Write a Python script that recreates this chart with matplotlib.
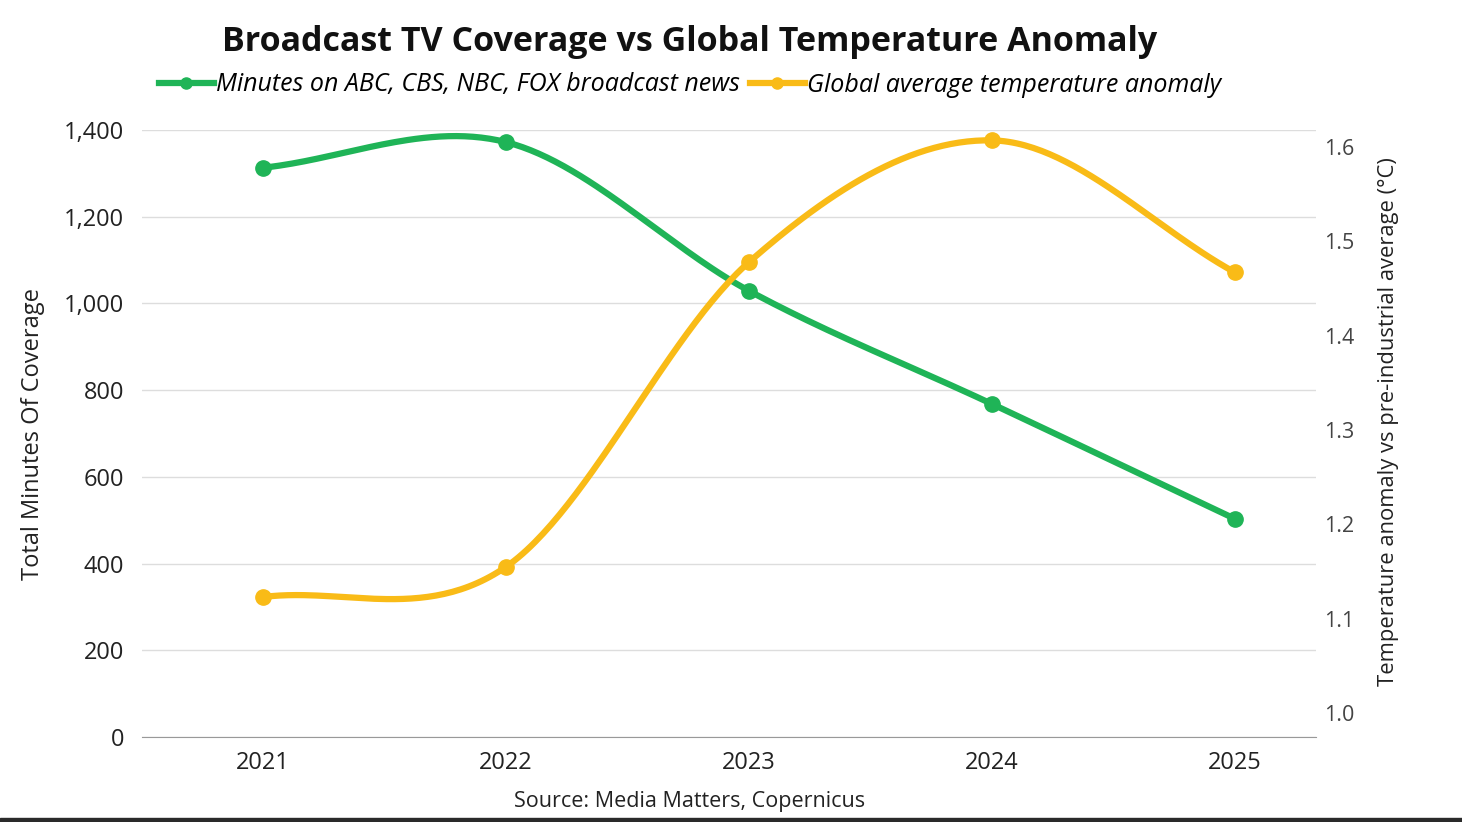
import numpy as np
import matplotlib
matplotlib.use("Agg")
import matplotlib.pyplot as plt
from matplotlib.lines import Line2D
from matplotlib.patches import Rectangle

plt.rcParams['font.family'] = ['Open Sans', 'DejaVu Sans']

# data
years = [2021, 2022, 2023, 2024, 2025]
minutes = [1313, 1372, 1029, 768, 503]
temp_anomaly = [1.123, 1.155, 1.478, 1.607, 1.467]

green = '#1fb457'
yellow = '#f9bb17'


def smooth(x, y, n=60):
    # catmull-rom curve through the points (like the rounded lines in the source)
    x = np.asarray(x, float)
    y = np.asarray(y, float)
    # extrapolated phantom points at both ends
    px = np.concatenate([[2 * x[0] - x[1]], x, [2 * x[-1] - x[-2]]])
    py = np.concatenate([[2 * y[0] - y[1]], y, [2 * y[-1] - y[-2]]])
    xs, ys = [], []
    for i in range(1, len(px) - 2):
        t = np.linspace(0, 1, n)
        mx0 = (px[i + 1] - px[i - 1]) / 2
        mx1 = (px[i + 2] - px[i]) / 2
        my0 = (py[i + 1] - py[i - 1]) / 2
        my1 = (py[i + 2] - py[i]) / 2
        h00 = 2 * t**3 - 3 * t**2 + 1
        h10 = t**3 - 2 * t**2 + t
        h01 = -2 * t**3 + 3 * t**2
        h11 = t**3 - t**2
        xs.append(h00 * px[i] + h10 * mx0 + h01 * px[i + 1] + h11 * mx1)
        ys.append(h00 * py[i] + h10 * my0 + h01 * py[i + 1] + h11 * my1)
    return np.concatenate(xs), np.concatenate(ys)


fig = plt.figure(figsize=(14.62, 8.22), dpi=100)
ax = fig.add_axes([142 / 1462, 1 - 737 / 822, (1316 - 142) / 1462, (737 - 130) / 822])
ax2 = ax.twinx()

sx, sy = smooth(years, minutes)
ax.plot(sx, sy, color=green, lw=4.5, solid_capstyle='round', zorder=3)
ax.plot(years, minutes, 'o', color=green, ms=11, zorder=4)

tx, ty = smooth(years, temp_anomaly)
ax2.plot(tx, ty, color=yellow, lw=4.5, solid_capstyle='round', zorder=3)
ax2.plot(years, temp_anomaly, 'o', color=yellow, ms=11, zorder=4)

ax.set_xlim(2020.502, 2025.333)
ax.set_ylim(0, 1400)
ax.set_yticks(range(0, 1401, 200))
ax.set_yticklabels([f'{v:,}' for v in range(0, 1401, 200)])
ax.set_xticks(years)
ax.grid(axis='y', color='#dddddd', lw=1)
ax.set_axisbelow(True)

ax2.set_ylim(0.9746, 1.618)
ax2.set_yticks([1.0, 1.1, 1.2, 1.3, 1.4, 1.5, 1.6])
ax2.set_yticklabels(['1.0', '1.1', '1.2', '1.3', '1.4', '1.5', '1.6'])

for a in (ax, ax2):
    for s in ['top', 'right', 'left']:
        a.spines[s].set_visible(False)
    a.tick_params(length=0, labelsize=17, colors='#222222')
ax2.spines['bottom'].set_visible(False)
ax.spines['bottom'].set_color('#999999')
ax.tick_params(axis='y', pad=13)
ax.tick_params(axis='x', pad=10)
ax2.tick_params(axis='y', pad=6, labelsize=15.5, labelcolor='#444444')

ax.set_ylabel('Total Minutes Of Coverage', fontsize=17, color='#222222')
ax.yaxis.set_label_coords(-0.0826, 0.5)
ax2.set_ylabel('Temperature anomaly vs pre-industrial average (°C)', fontsize=15.8,
               color='#222222')
ax2.yaxis.set_label_coords(1.0528, 0.52)

fig.text(690 / 1462, 1 - 42 / 822, 'Broadcast TV Coverage vs Global Temperature Anomaly',
         ha='center', va='center', fontsize=24.5, fontweight='bold', color='#111111')

handles = [
    Line2D([], [], color=green, lw=4.5, marker='o', ms=8),
    Line2D([], [], color=yellow, lw=4.5, marker='o', ms=8),
]
labels = ['Minutes on ABC, CBS, NBC, FOX broadcast news',
          'Global average temperature anomaly']
fig.legend(handles, labels, loc='center', bbox_to_anchor=(690 / 1462, 1 - 85 / 822),
           ncol=2, frameon=False, handlelength=2.2, handletextpad=0.1,
           columnspacing=0.4, prop={'style': 'italic', 'size': 18})

fig.text(690 / 1462, 1 - 801 / 822, 'Source: Media Matters, Copernicus',
         ha='center', va='center', fontsize=15.5, color='#222222')

# dark strip along the bottom edge of the screenshot
fig.patches.append(Rectangle((0, 0), 1, 4 / 822, transform=fig.transFigure,
                             color='#2a2a2a', zorder=10))

fig.savefig('out.png', dpi=100)
